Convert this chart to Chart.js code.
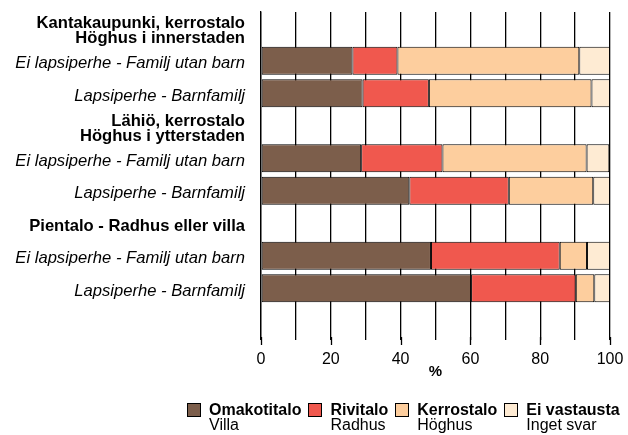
<!DOCTYPE html>
<html>
<head>
<meta charset="utf-8">
<script src="https://cdn.jsdelivr.net/npm/chart.js@4/dist/chart.umd.min.js"></script>
<style>
  html, body { margin: 0; padding: 0; background: #fff; }
  #wrap { position: relative; width: 628px; height: 435px; }
  #c { position: absolute; left: 0; top: 0; }
  #legend { position: absolute; left: 187px; top: 402px; display: flex; font-family: "Liberation Sans", Arial, sans-serif; font-size: 16px; line-height: 15px; color: #000; }
  .item { display: flex; align-items: flex-start; margin-right: 7px; }
  .box { width: 14px; height: 14px; box-sizing: border-box; border: 1px solid #000; margin-top: 1px; margin-right: 8px; }
  .t1 { font-weight: bold; }
</style>
</head>
<body>
<div id="wrap">
  <canvas id="c" width="628" height="435"></canvas>
  <div id="legend"></div>
</div>
<script>
const categories = [
  ['Kantakaupunki, kerrostalo', 'Höghus i innerstaden'],
  'Ei lapsiperhe - Familj utan barn',
  'Lapsiperhe - Barnfamilj',
  ['Lähiö, kerrostalo', 'Höghus i ytterstaden'],
  'Ei lapsiperhe - Familj utan barn',
  'Lapsiperhe - Barnfamilj',
  'Pientalo - Radhus eller villa',
  'Ei lapsiperhe - Familj utan barn',
  'Lapsiperhe - Barnfamilj',
  ''
];
const headerRows = [0, 3, 6];

const omakotitalo = [null, 26.2, 29.1, null, 28.7, 42.5, null, 48.7, 60.2, null];
const rivitalo    = [null, 12.9, 19.0, null, 23.3, 28.5, null, 36.9, 30.0, null];
const kerrostalo  = [null, 52.1, 46.6, null, 41.3, 24.2, null, 7.8, 5.3, null];
const eiVastausta = [null, 8.8, 5.3, null, 6.5, 4.8, null, 6.6, 4.5, null];

const seriesNames = [['Omakotitalo', 'Villa'], ['Rivitalo', 'Radhus'], ['Kerrostalo', 'Höghus'], ['Ei vastausta', 'Inget svar']];
const seriesColors = ['#7c5e4b', '#f0584e', '#fdce9e', '#feebd3'];
const seriesData = [omakotitalo, rivitalo, kerrostalo, eiVastausta];

const xTickValues = [0, 20, 40, 60, 80, 100];
const xTitle = '%';

const FONT = '"Liberation Sans", Arial, sans-serif';

const datasets = seriesData.map((d, i) => ({
  label: seriesNames[i].join(' '),
  data: d,
  backgroundColor: seriesColors[i],
  borderColor: '#000',
  borderWidth: 1,
  borderSkipped: false,
  barPercentage: 0.86,
  categoryPercentage: 1.0
}));

// longer tick marks under the labelled x values
const majorTicks = {
  id: 'majorTicks',
  afterDatasetsDraw(chart) {
    const xs = chart.scales.x;
    const ctx = chart.ctx;
    const y0 = chart.chartArea.bottom;
    ctx.save();
    ctx.strokeStyle = '#000';
    ctx.lineWidth = 1.3;
    xTickValues.forEach(v => {
      const px = Math.round(xs.getPixelForValue(v)) + 0.5;
      ctx.beginPath();
      ctx.moveTo(px, y0);
      ctx.lineTo(px, y0 + 8);
      ctx.stroke();
    });
    ctx.restore();
  }
};

new Chart(document.getElementById('c'), {
  type: 'bar',
  data: { labels: categories, datasets },
  plugins: [majorTicks],
  options: {
    indexAxis: 'y',
    responsive: false,
    animation: false,
    layout: { padding: { left: 0, top: 12, right: 18, bottom: 54 } },
    plugins: { legend: { display: false }, tooltip: { enabled: false } },
    scales: {
      x: {
        stacked: true,
        min: 0, max: 100,
        afterFit: (s) => { s.height = 44; s.paddingLeft = 0; s.paddingRight = 0; },
        grid: { color: '#000', lineWidth: 1.3, tickLength: 3, drawOnChartArea: true },
        border: { display: false },
        ticks: {
          stepSize: 10, autoSkip: false, maxRotation: 0, padding: 10,
          color: '#000', font: { family: FONT, size: 16 },
          callback: (v) => xTickValues.includes(v) ? String(v) : ''
        },
        title: { display: true, text: xTitle, color: '#000', padding: 0, font: { family: FONT, size: 15, weight: 'bold' } }
      },
      y: {
        stacked: true,
        afterFit: (s) => { s.width = 261; s.paddingTop = 0; s.paddingBottom = 0; },
        grid: { display: false, drawTicks: false },
        border: { display: true, color: '#000', width: 1.3 },
        ticks: {
          padding: 16, color: '#000', autoSkip: false, labelOffset: 3,
          font: (ctx) => headerRows.includes(ctx.index)
            ? { family: FONT, size: 16.6, weight: 'bold', lineHeight: 0.92 }
            : { family: FONT, size: 16.6, style: 'italic' }
        }
      }
    }
  }
});

const lg = document.getElementById('legend');
seriesNames.forEach((n, i) => {
  const it = document.createElement('div');
  it.className = 'item';
  it.innerHTML = '<div class="box" style="background:' + seriesColors[i] + '"></div><div><div class="t1">' + n[0] + '</div><div>' + n[1] + '</div></div>';
  lg.appendChild(it);
});
</script>
</body>
</html>
